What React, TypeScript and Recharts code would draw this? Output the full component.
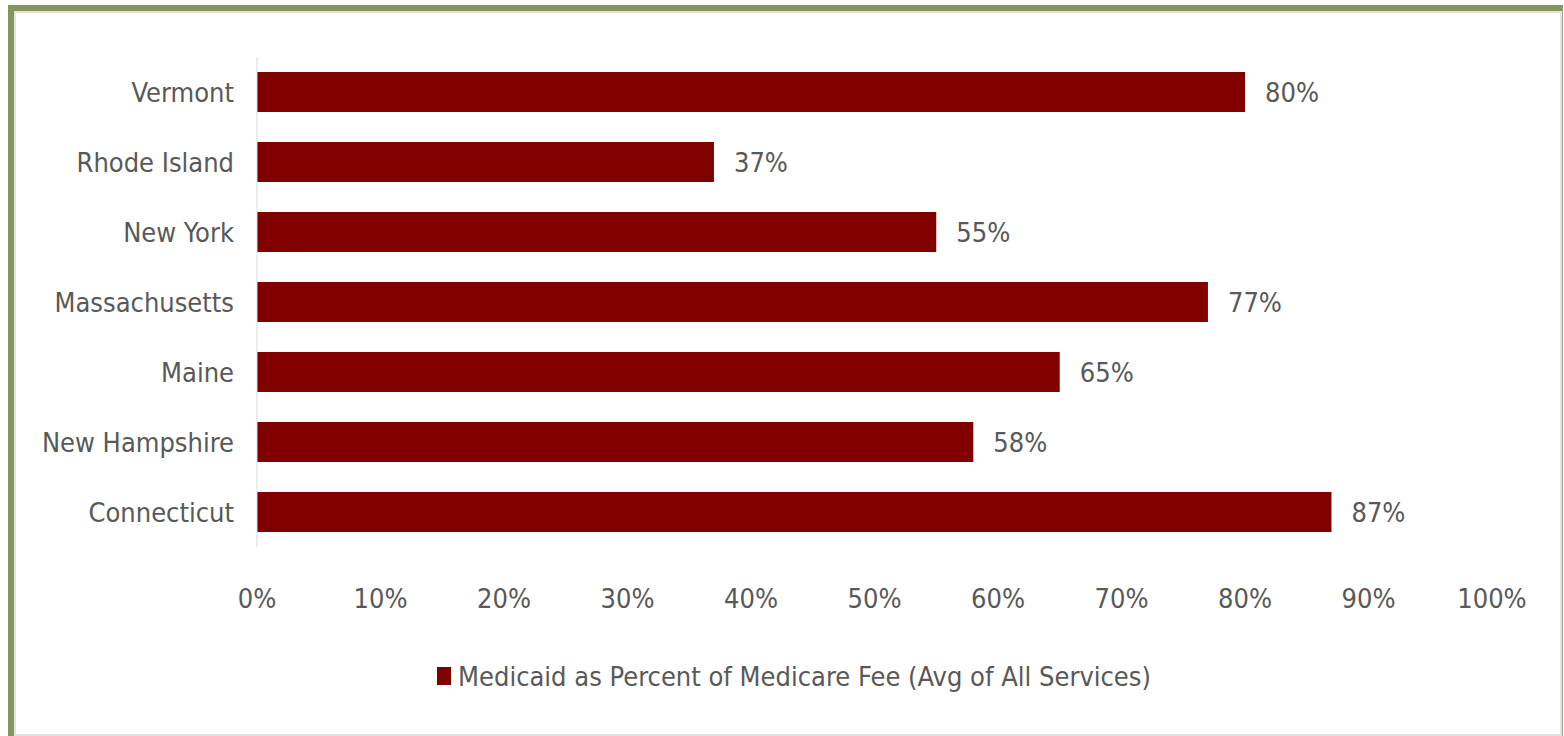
import React from 'react';
import { BarChart, Bar, XAxis, YAxis, Legend, LabelList } from 'recharts';

const states = ['Vermont', 'Rhode Island', 'New York', 'Massachusetts', 'Maine', 'New Hampshire', 'Connecticut'];
const feePct = [80, 37, 55, 77, 65, 58, 87];
const xTicks = [0, 10, 20, 30, 40, 50, 60, 70, 80, 90, 100];
const seriesName = 'Medicaid as Percent of Medicare Fee (Avg of All Services)';

const data = states.map((s, i) => ({ state: s, value: feePct[i] }));

const FONT = '"Liberation Sans Narrow", "DejaVu Sans Condensed", "Roboto", sans-serif';
const FS = 27;
const TEXT = '#595959';
const BAR = '#800000';

const LegendBox = () => (
  <div style={{ display: 'flex', justifyContent: 'center', alignItems: 'center', height: 40, fontFamily: FONT, fontSize: FS, color: TEXT }}>
    <span style={{ display: 'inline-block', width: 14, height: 18, background: BAR, marginRight: 7 }} />
    <span>{seriesName}</span>
  </div>
);

export default function App() {
  return (
    <div style={{ position: 'absolute', left: 0, top: 0, width: 1564, height: 736, background: '#fff' }}>
      <div style={{ position: 'absolute', left: 8, top: 5, width: 1555, height: 731, borderTop: '6px solid #84965A', borderLeft: '6px solid #84965A', borderRight: '1px solid #9aa58a', boxSizing: 'border-box' }}>
        <div style={{ position: 'absolute', left: 0, top: 0, right: 0, bottom: 0, border: '2px solid #e3e3e3' }} />
      </div>
      <div style={{ position: 'absolute', left: 0, top: 0 }}>
        <BarChart width={1564} height={736} data={data} layout="vertical" margin={{ top: 57, right: 72, left: 0, bottom: 40 }}>
          <XAxis type="number" domain={[0, 100]} ticks={xTicks} tickFormatter={(v) => `${v}%`} axisLine={false} tickLine={false} tickSize={0} tickMargin={42} height={109} tick={{ fill: TEXT, fontSize: FS, fontFamily: FONT }} interval={0} />
          <YAxis type="category" dataKey="state" width={257} axisLine={{ stroke: '#d9d9d9' }} tickLine={false} tickSize={0} tickMargin={23} tick={{ fill: TEXT, fontSize: FS, fontFamily: FONT }} interval={0} />
          <Legend verticalAlign="bottom" content={<LegendBox />} wrapperStyle={{ left: 24, width: 1540 }} />
          <Bar dataKey="value" name={seriesName} fill={BAR} barSize={40} isAnimationActive={false}>
            <LabelList dataKey="value" position="right" offset={20} formatter={(v: any) => `${v}%`} fill={TEXT} fontSize={FS} fontFamily={FONT} />
          </Bar>
        </BarChart>
      </div>
    </div>
  );
}
